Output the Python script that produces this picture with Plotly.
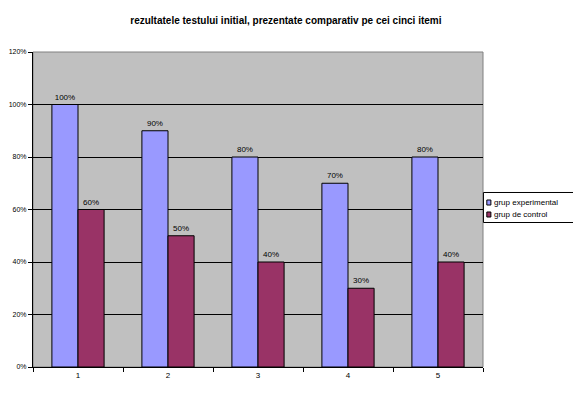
import plotly.graph_objects as go

categories = ["1", "2", "3", "4", "5"]
experimental = [1.00, 0.90, 0.80, 0.70, 0.80]
control = [0.60, 0.50, 0.40, 0.30, 0.40]
exp_labels = ["100%", "90%", "80%", "70%", "80%"]
ctl_labels = ["60%", "50%", "40%", "30%", "40%"]
series_names = ["grup experimental", "grup de control"]
series_colors = ["#9999FF", "#993366"]

fig = go.Figure()
fig.add_trace(go.Bar(x=categories, y=experimental, name=series_names[0],
                     marker=dict(color=series_colors[0], line=dict(color="black", width=1)),
                     text=exp_labels, textposition="outside", cliponaxis=False,
                     textfont=dict(size=8, color="black")))
fig.add_trace(go.Bar(x=categories, y=control, name=series_names[1],
                     marker=dict(color=series_colors[1], line=dict(color="black", width=1)),
                     text=ctl_labels, textposition="outside", cliponaxis=False,
                     textfont=dict(size=8, color="black")))

fig.update_layout(
    width=573, height=388,
    margin=dict(l=25, r=98, t=44, b=29, autoexpand=False),
    paper_bgcolor="white", plot_bgcolor="#C0C0C0",
    font=dict(family="Arial, Liberation Sans, sans-serif", size=8, color="black"),
    title=dict(text="<b>rezultatele testului initial, prezentate comparativ pe cei cinci itemi</b>",
               x=0.485, xanchor="center", y=0.967, yanchor="middle",
               font=dict(size=10)),
    barmode="group", bargap=0.42, bargroupgap=0,
    showlegend=False,
    xaxis=dict(showline=True, linecolor="black", linewidth=1, automargin=False,
               ticks="outside", tickson="boundaries", ticklen=4, tickcolor="black",
               showgrid=False, tickfont=dict(size=8)),
    yaxis=dict(range=[0, 1.2], dtick=0.2, tickformat=".0%", automargin=False,
               showline=True, linecolor="black", linewidth=1,
               ticks="outside", ticklen=4, tickcolor="black",
               showgrid=True, gridcolor="black", gridwidth=1,
               zeroline=False, tickfont=dict(size=7)),
)
# plot area border
fig.add_shape(type="rect", xref="paper", yref="paper", x0=0, x1=1, y0=0, y1=1,
              line=dict(color="#808080", width=1), layer="below")

# legend box (drawn manually to match the compact original)
fig.add_shape(type="rect", xref="paper", yref="paper", x0=1.001, x1=1.202,
              y0=0.4587, y1=0.554, line=dict(color="black", width=1),
              fillcolor="white", layer="above")
legend_rows_y = [0.5222, 0.4841]
for name, color, yc in zip(series_names, series_colors, legend_rows_y):
    fig.add_shape(type="rect", xref="paper", yref="paper", x0=1.0085, x1=1.0175,
                  y0=yc - 0.008, y1=yc + 0.008, fillcolor=color,
                  line=dict(color="black", width=1), layer="above")
    fig.add_annotation(xref="paper", yref="paper", x=1.021, y=yc, text=name,
                       showarrow=False, xanchor="left", yanchor="middle",
                       font=dict(size=8, color="black"))

fig.write_html("out.html")
